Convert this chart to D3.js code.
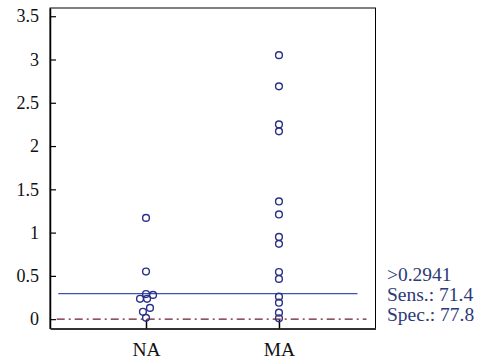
<!DOCTYPE html>
<html>
<head>
<meta charset="utf-8">
<script src="https://cdn.jsdelivr.net/npm/d3@7"></script>
<style>
  body { margin: 0; background: #fff; }
  text { font-family: "Liberation Serif", "DejaVu Serif", serif; }
</style>
</head>
<body>
<div id="chart"></div>
<script>
// groups and their values
var groups = ["NA", "MA"];
// x in group units (1 = NA, 2 = MA), small jitter where points were dodged
var naX = [1, 1, 1, 1.053, 0.955, 1.008, 1.03, 0.977, 1];
var naValues = [1.17, 0.55, 0.29, 0.28, 0.235, 0.235, 0.13, 0.085, 0.015];
var maValues = [3.05, 2.69, 2.25, 2.17, 1.36, 1.21, 0.95, 0.87, 0.545, 0.465, 0.26, 0.19, 0.075, 0.01];
var yTicks = [0, 0.5, 1, 1.5, 2, 2.5, 3, 3.5];
var cutoff = 0.2941;
var statLabels = [">0.2941", "Sens.: 71.4", "Spec.: 77.8"];

// set the dimensions and margins of the graph
var margin = {top: 8, right: 101.5, bottom: 31.5, left: 50},
    width = 477 - margin.left - margin.right,
    height = 360 - margin.top - margin.bottom;

var svg = d3.select("#chart")
  .append("svg")
    .attr("width", 477)
    .attr("height", 360)
  .append("g")
    .attr("transform", "translate(" + margin.left + "," + margin.top + ")");

var x = d3.scaleLinear()
  .domain([0.278, 2.726])
  .range([0, width]);

var y = d3.scaleLinear()
  .domain([-0.108, 3.595])
  .range([height, 0]);

// frame (top and right)
svg.append("rect")
  .attr("x", 0).attr("y", 0)
  .attr("width", width).attr("height", height)
  .attr("fill", "none")
  .attr("stroke", "#000")
  .attr("stroke-width", 1);

// Y axis, ticks pointing inside
var yAxis = svg.append("g")
  .call(d3.axisLeft(y).tickValues(yTicks).tickFormat(function(d){ return String(d); })
    .tickSizeInner(-6).tickSizeOuter(0).tickPadding(11))
  .attr("font-family", "Liberation Serif")
  .attr("font-size", 18);
yAxis.select(".domain").attr("stroke-width", 1.5);
yAxis.selectAll("text").attr("fill", "#111");
yAxis.selectAll("line").attr("stroke-width", 1.2);

// X axis
var xAxis = svg.append("g")
  .attr("transform", "translate(0," + height + ")")
  .call(d3.axisBottom(x).tickValues([1, 2]).tickFormat(function(d){ return groups[d-1]; })
    .tickSizeInner(-9).tickSizeOuter(0).tickPadding(14))
  .attr("font-family", "Liberation Serif")
  .attr("font-size", 19.5);
xAxis.select(".domain").attr("stroke-width", 2).attr("stroke", "#333");
xAxis.selectAll("line").attr("stroke-width", 1.5);
xAxis.selectAll("text").attr("fill", "#111");

// zero line (dash-dot)
svg.append("line")
  .attr("x1", 6.7).attr("x2", width - 9)
  .attr("y1", y(0)).attr("y2", y(0))
  .attr("stroke", "#6a1c2c")
  .attr("stroke-width", 1.2)
  .attr("stroke-dasharray", "8,4,2,4");

// cutoff line
svg.append("line")
  .attr("x1", 8.3).attr("x2", width - 18)
  .attr("y1", y(cutoff)).attr("y2", y(cutoff))
  .attr("stroke", "#3d50b4")
  .attr("stroke-width", 1.3);

// points
var pts = naValues.map(function(v, i){ return {x: naX[i], v: v}; })
  .concat(maValues.map(function(v){ return {x: 2, v: v}; }));

svg.selectAll("circle.pt")
  .data(pts)
  .enter()
  .append("circle")
    .attr("class", "pt")
    .attr("cx", function(d){ return x(d.x); })
    .attr("cy", function(d){ return y(d.v); })
    .attr("r", 3.4)
    .attr("fill", "none")
    .attr("stroke", "#2b3088")
    .attr("stroke-width", 1.4);

// stats text on the right
svg.selectAll("text.stat")
  .data(statLabels)
  .enter()
  .append("text")
    .attr("class", "stat")
    .attr("x", width + 11.5)
    .attr("y", function(d, i){ return 272.5 + i * 20.3; })
    .attr("font-size", 19.5)
    .attr("fill", "#2c3a78")
    .text(function(d){ return d; });
</script>
</body>
</html>
